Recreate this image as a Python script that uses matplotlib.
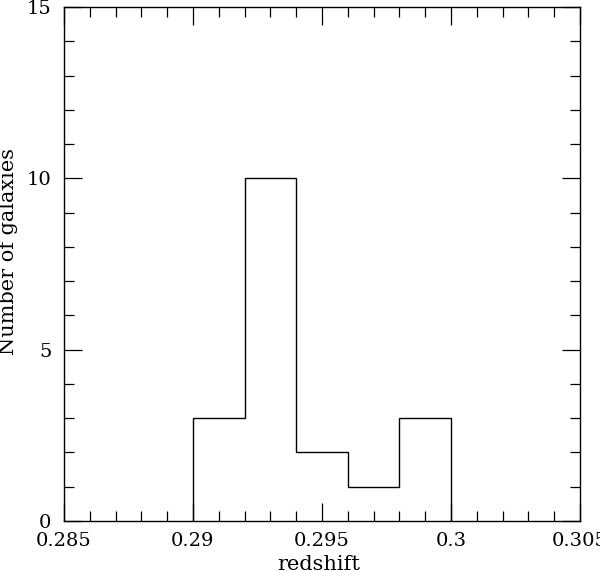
import matplotlib
matplotlib.use("Agg")
import matplotlib.pyplot as plt
from matplotlib.ticker import MultipleLocator, FixedFormatter, FixedLocator

bin_edges = [0.290, 0.292, 0.294, 0.296, 0.298, 0.300]
counts = [3, 10, 2, 1, 3]
xticks = [0.285, 0.29, 0.295, 0.3, 0.305]
xticklabels = ["0.285", "0.29", "0.295", "0.3", "0.305"]
yticks = [0, 5, 10, 15]

plt.rcParams['font.family'] = ['DejaVu Serif']
fig = plt.figure(figsize=(6, 5.71), dpi=100)
ax = fig.add_axes([64/600, 50/571, 516/600, 514/571])

ax.stairs(counts, bin_edges, color='black', linewidth=1.0)
ax.set_xlim(0.285, 0.305)
ax.set_ylim(0, 15)
ax.xaxis.set_major_locator(FixedLocator(xticks))
ax.xaxis.set_major_formatter(FixedFormatter(xticklabels))
ax.xaxis.set_minor_locator(MultipleLocator(0.001))
ax.yaxis.set_major_locator(FixedLocator(yticks))
ax.yaxis.set_minor_locator(MultipleLocator(1))
ax.tick_params(which='both', direction='in', top=True, right=True, width=0.9, labelsize=14)
ax.tick_params(which='major', length=13)
ax.tick_params(axis='x', which='major', pad=8)
ax.tick_params(axis='y', which='major', pad=9)
ax.tick_params(which='minor', length=7.5)
for s in ax.spines.values():
    s.set_linewidth(1.0)
ax.set_xlabel('redshift', fontsize=15, va='center')
ax.xaxis.set_label_coords(0.494, -0.084)
ax.set_ylabel('Number of galaxies', fontsize=15, va='center')
ax.yaxis.set_label_coords(-0.108, 0.525)
fig.savefig('out.png', dpi=100)
